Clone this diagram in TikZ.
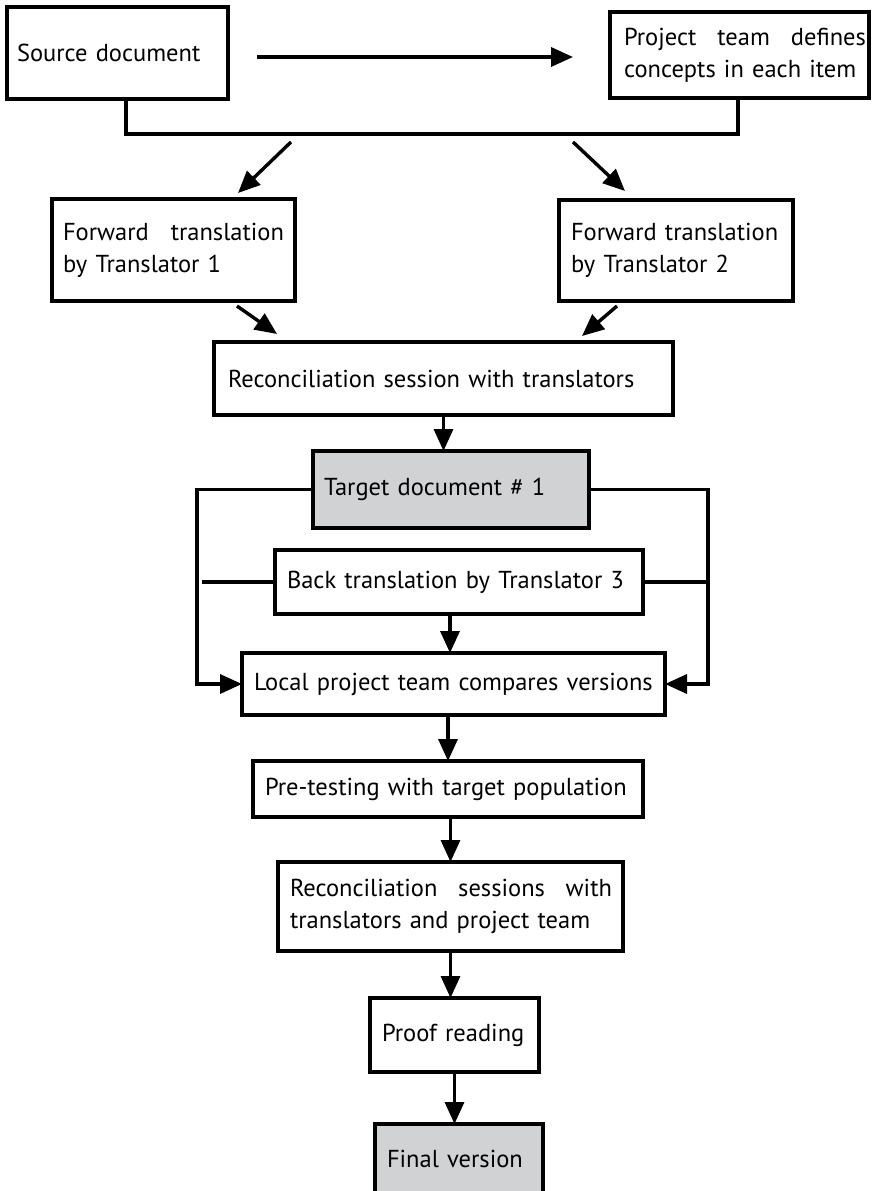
\documentclass[tikz,border=0pt]{standalone}
\usepackage{fontspec}
\setmainfont{PT Sans}
\usetikzlibrary{arrows.meta,calc}
\definecolor{boxgray}{RGB}{209,210,212}
\begin{document}
\begin{tikzpicture}[x=1pt,y=-1pt,
  box/.style={draw=black,line width=3.4pt,rectangle,align=left,
    font=\fontsize{24.5}{32}\selectfont,inner ysep=0pt,outer sep=0pt},
  grayfill/.style={fill=boxgray},
  conn/.style={line width=3.4pt},
  arr/.style={line width=3.4pt,-{Triangle[length=22pt,width=19pt]}}]
\useasboundingbox (0,0) rectangle (873,1191);
\clip (0,0) rectangle (873,1191);

% boxes
\node[box,text width=201pt,inner xsep=10pt,minimum height=92pt] (src) at (117.5,53)
  {\mbox{Source document}};
\node[box,text width=231pt,inner xsep=14pt,minimum height=86pt] (proj) at (739.5,55)
  {\hbox to 242pt{Project\hfill team\hfill defines}\\\mbox{concepts in each item}};
\node[box,text width=221pt,inner xsep=11pt,minimum height=102pt] (ft1) at (173.5,250)
  {\hbox to 221pt{Forward\hfill translation}\\\mbox{by Translator 1}};
\node[box,text width=210pt,inner xsep=12pt,minimum height=101pt] (ft2) at (676,250.5)
  {\mbox{Forward translation}\\\mbox{by Translator 2}};
\node[box,text width=431pt,inner xsep=14pt,minimum height=73pt] (recon) at (443.5,378.5)
  {\mbox{Reconciliation session with translators}};
\node[box,grayfill,text width=254pt,inner xsep=11pt,minimum height=77pt] (target) at (451,489.5)
  {\mbox{Target document \# 1}};
\node[box,text width=344pt,inner xsep=12pt,minimum height=64pt] (back) at (459,582)
  {\mbox{Back translation by Translator 3}};
\node[box,text width=399pt,inner xsep=12pt,minimum height=62pt] (local) at (453.5,684)
  {\mbox{Local project team compares versions}};
\node[box,text width=366pt,inner xsep=12pt,minimum height=56pt] (pretest) at (448,789)
  {\mbox{Pre-testing with target population}};
\node[box,text width=321pt,inner xsep=12pt,minimum height=89pt] (recontwo) at (450.5,906.5)
  {\hbox to 322pt{Reconciliation\hfill sessions\hfill with}\\\mbox{translators and project team}};
\node[box,text width=145pt,inner xsep=12pt,minimum height=74pt] (proof) at (454.5,1035)
  {\mbox{Proof reading}};
\node[box,grayfill,text width=144pt,inner xsep=12pt,minimum height=70pt] (final) at (459,1159)
  {\mbox{Final version}};

% helper coordinates
\coordinate (mL) at (126,134);
\coordinate (mR) at (738,134);
\coordinate (dL) at (291,142);
\coordinate (dR) at (573,142);
\coordinate (lx) at (197,0);
\coordinate (lxb) at (202,0);
\coordinate (rx) at (708,0);

% connectors
\draw[arr] ($(src.east)+(29,4)$) -- ($(proj.west)+(-37,2)$);
\draw[conn] (src.south -| mL) -- (mL) -- (mR) -- (proj.south -| mR);
\draw[arr] (dL) -- ($(ft1.north east)+(-57,-6)$);
\draw[arr] (dR) -- ($(ft2.north west)+(66,-9)$);
\draw[arr] ($(ft1.south east)+(-58,5)$) -- ($(recon.north west)+(63,-8)$);
\draw[arr] ($(ft2.south west)+(58,5)$) -- ($(recon.north east)+(-91,-6)$);
\draw[arr] (recon.south) -- (recon.south |- target.north);
\draw[arr] (target.west) -- (target.west -| lx) |- (local.west);
\draw[arr] (target.east) -- (target.east -| rx) |- (local.east);
\draw[conn] (back.west) -- (back.west -| lxb);
\draw[conn] (back.east) -- (back.east -| rx);
\coordinate (bl) at ($(back.south)+(-9,0)$);
\draw[arr] (bl) -- (bl |- local.north);
\draw[arr] (pretest.north |- local.south) -- (pretest.north);
\draw[arr] (recontwo.north |- pretest.south) -- (recontwo.north);
\draw[arr] (recontwo.south) -- (recontwo.south |- proof.north);
\draw[arr] (proof.south) -- (proof.south |- final.north);
\end{tikzpicture}
\end{document}
